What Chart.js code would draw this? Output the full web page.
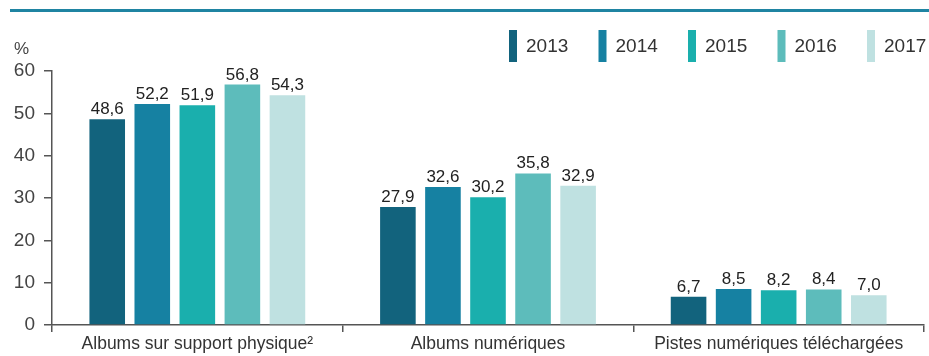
<!DOCTYPE html>
<html>
<head>
<meta charset="utf-8">
<script src="https://cdn.jsdelivr.net/npm/chart.js@4/dist/chart.umd.min.js"></script>
<style>
  html, body { margin: 0; padding: 0; background: #fff; }
  #wrap { position: relative; width: 929px; height: 356px; }
  #rule { position: absolute; left: 10px; right: 0; top: 9px; height: 3px; background: #1f84a2; }
  canvas { position: absolute; left: 0; top: 0; }
</style>
</head>
<body>
<div id="wrap">
  <div id="rule"></div>
  <canvas id="chart" width="929" height="356"></canvas>
</div>
<script>
// Categories and yearly shares (%)
const categories = ['Albums sur support physique²', 'Albums numériques', 'Pistes numériques téléchargées'];
const years = ['2013', '2014', '2015', '2016', '2017'];
const values2013 = [48.6, 27.9, 6.7];
const values2014 = [52.2, 32.6, 8.5];
const values2015 = [51.9, 30.2, 8.2];
const values2016 = [56.8, 35.8, 8.4];
const values2017 = [54.3, 32.9, 7.0];
const yTicks = [0, 10, 20, 30, 40, 50, 60];
const unitLabel = '%';

const seriesValues = [values2013, values2014, values2015, values2016, values2017];
const palette = ['#12637d', '#1681a2', '#1aafad', '#5dbcbb', '#bfe1e1'];
const FONT = '"Liberation Sans", Arial, sans-serif';
const AXIS = '#555555';

const fmt = v => v.toFixed(1).replace('.', ',');

// Value labels above each bar
const valueLabels = {
  id: 'valueLabels',
  afterDatasetsDraw(chart) {
    const ctx = chart.ctx;
    ctx.save();
    ctx.font = '17px ' + FONT;
    ctx.fillStyle = '#222';
    ctx.textAlign = 'center';
    ctx.textBaseline = 'alphabetic';
    chart.data.datasets.forEach((ds, i) => {
      chart.getDatasetMeta(i).data.forEach((bar, j) => {
        ctx.fillText(fmt(ds.data[j]), bar.x, bar.y - 5);
      });
    });
    ctx.restore();
  }
};

// Legend row (top right) and unit label above the y axis
const decorations = {
  id: 'decorations',
  afterDraw(chart) {
    const ctx = chart.ctx;
    ctx.save();
    ctx.font = '19px ' + FONT;
    ctx.textBaseline = 'middle';
    ctx.textAlign = 'left';
    chart.data.datasets.forEach((ds, i) => {
      const x = 509 + i * 89.5;
      ctx.fillStyle = ds.backgroundColor;
      ctx.fillRect(x, 30, 8, 32);
      ctx.fillStyle = '#333';
      ctx.fillText(ds.label, x + 17, 47);
    });
    ctx.font = '17px ' + FONT;
    ctx.fillStyle = '#444';
    ctx.fillText(unitLabel, 14, 49);
    ctx.restore();
  }
};

new Chart(document.getElementById('chart'), {
  type: 'bar',
  data: {
    labels: categories,
    datasets: years.map((y, i) => ({
      label: y,
      data: seriesValues[i],
      backgroundColor: palette[i],
      borderWidth: 0,
      categoryPercentage: 0.775,
      barPercentage: 0.79
    }))
  },
  options: {
    responsive: false,
    animation: false,
    devicePixelRatio: 1,
    layout: { padding: { top: 71, right: 5, bottom: 0, left: 0 } },
    plugins: {
      legend: { display: false },
      tooltip: { enabled: false }
    },
    scales: {
      x: {
        grid: {
          offset: true,
          drawOnChartArea: false,
          drawTicks: true,
          tickLength: 7,
          color: AXIS,
          lineWidth: 1.5
        },
        border: { display: true, color: AXIS, width: 1.5 },
        ticks: {
          color: '#333',
          font: { family: FONT, size: 17.5 },
          padding: 2,
          maxRotation: 0,
          autoSkip: false
        },
        afterFit(scale) { scale.height = 31; }
      },
      y: {
        min: 0,
        max: 60,
        afterBuildTicks(scale) { scale.ticks = yTicks.map(v => ({ value: v })); },
        grid: {
          drawOnChartArea: false,
          drawTicks: true,
          tickLength: 8,
          color: AXIS,
          lineWidth: 1.5
        },
        border: { display: true, color: AXIS, width: 1.5 },
        ticks: {
          color: '#444',
          font: { family: FONT, size: 19 },
          padding: 9
        },
        afterFit(scale) { scale.width = 52; }
      }
    }
  },
  plugins: [valueLabels, decorations]
});
</script>
</body>
</html>
